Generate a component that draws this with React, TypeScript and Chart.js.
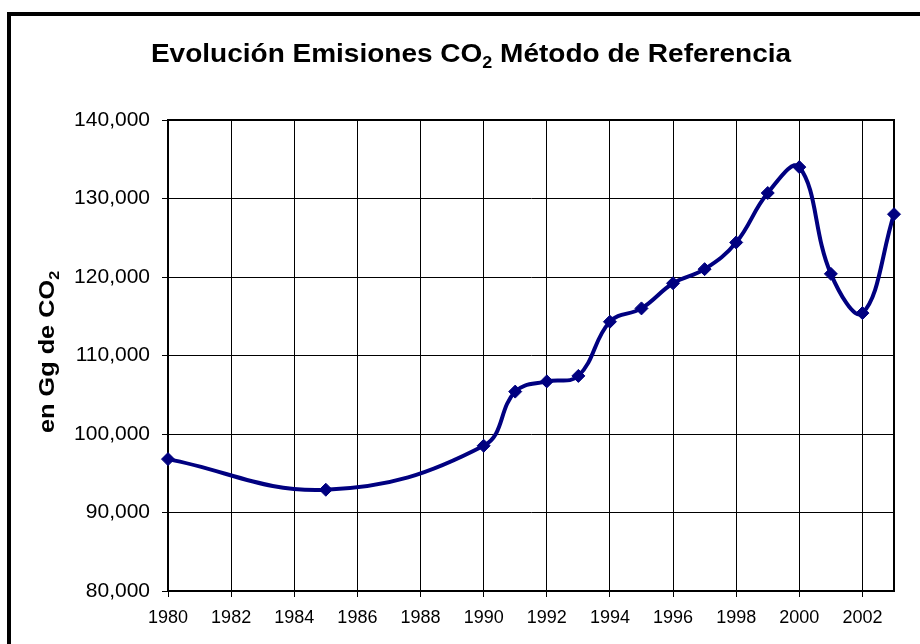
import React, { useEffect, useRef } from 'react';
import { Chart, registerables } from 'chart.js';

Chart.register(...registerables);

// ---- data ----
const years = [1980, 1985, 1990, 1991, 1992, 1993, 1994, 1995, 1996, 1997, 1998, 1999, 2000, 2001, 2002, 2003];
const emissions = [96800, 92900, 98500, 105400, 106700, 107400, 114300, 116000, 119200, 121000, 124400, 130700, 134000, 120400, 115400, 128000];
const xTicks = [1980, 1982, 1984, 1986, 1988, 1990, 1992, 1994, 1996, 1998, 2000, 2002];
const yTicks = [80000, 90000, 100000, 110000, 120000, 130000, 140000];
const titleParts = [
  { t: 'Evolución Emisiones CO', sub: false },
  { t: '2', sub: true },
  { t: ' Método de Referencia', sub: false },
];
const yLabelParts = [
  { t: 'en Gg de CO', sub: false },
  { t: '2', sub: true },
];

const NAVY = '#000080';
const FAMILY = '"Liberation Sans", Arial, Helvetica, sans-serif';

type Part = { t: string; sub: boolean };

function drawRich(ctx: CanvasRenderingContext2D, parts: Part[], size: number, sx: number) {
  const subSize = Math.round(size * 0.65);
  const widths = parts.map((p) => {
    ctx.font = `bold ${p.sub ? subSize : size}px ${FAMILY}`;
    return ctx.measureText(p.t).width;
  });
  const total = widths.reduce((a, b) => a + b, 0);
  ctx.scale(sx, 1);
  let x = -total / 2;
  ctx.textBaseline = 'alphabetic';
  ctx.textAlign = 'left';
  ctx.fillStyle = '#000';
  parts.forEach((p, i) => {
    ctx.font = `bold ${p.sub ? subSize : size}px ${FAMILY}`;
    ctx.fillText(p.t, x, p.sub ? size * 0.22 : 0);
    x += widths[i];
  });
}

const decor = {
  id: 'decor',
  beforeDraw(chart: any) {
    const ctx = chart.ctx as CanvasRenderingContext2D;
    ctx.save();
    ctx.fillStyle = '#fff';
    ctx.fillRect(0, 0, chart.width, chart.height);
    ctx.restore();
  },
  beforeDatasetsDraw(chart: any) {
    const ctx = chart.ctx as CanvasRenderingContext2D;
    const a = chart.chartArea;
    ctx.save();
    ctx.strokeStyle = '#000';
    ctx.lineWidth = 2;
    ctx.strokeRect(a.left, a.top, a.right - a.left, a.bottom - a.top);
    ctx.restore();
  },
  afterDraw(chart: any) {
    const ctx = chart.ctx as CanvasRenderingContext2D;
    // outer frame
    ctx.save();
    ctx.fillStyle = '#000';
    ctx.fillRect(7, 12, chart.width, 4);
    ctx.fillRect(7, 12, 4, chart.height);
    ctx.restore();
    // title
    ctx.save();
    ctx.translate(471, 62);
    drawRich(ctx, titleParts, 25, 1.12);
    ctx.restore();
    // y axis label
    ctx.save();
    ctx.translate(54, 352);
    ctx.rotate(-Math.PI / 2);
    drawRich(ctx, yLabelParts, 22, 1.15);
    ctx.restore();
  },
};

export default function App() {
  const ref = useRef<HTMLCanvasElement>(null);
  useEffect(() => {
    const canvas = ref.current;
    if (!canvas) return;
    const chart = new Chart(canvas, {
      type: 'line',
      data: {
        datasets: [
          {
            data: years.map((y, i) => ({ x: y, y: emissions[i] })),
            borderColor: NAVY,
            backgroundColor: NAVY,
            borderWidth: 4,
            tension: 0.4,
            pointStyle: 'rectRot',
            pointRadius: 6.5,
            pointHoverRadius: 6.5,
            pointBackgroundColor: NAVY,
            pointBorderColor: NAVY,
            pointBorderWidth: 1,
            fill: false,
            clip: false,
          } as any,
        ],
      },
      options: {
        responsive: false,
        animation: false,
        devicePixelRatio: 1,
        layout: { padding: { top: 120, right: 26, left: 0, bottom: 0 } },
        plugins: {
          legend: { display: false },
          title: { display: false },
          tooltip: { enabled: false },
        },
        scales: {
          x: {
            type: 'linear',
            min: 1980,
            max: 2003,
            afterBuildTicks: (scale: any) => {
              scale.ticks = xTicks.map((v) => ({ value: v }));
            },
            afterFit: (scale: any) => {
              scale.height = 53;
            },
            grid: { color: '#000', lineWidth: 1, drawTicks: true, tickLength: 6, tickColor: '#000' },
            border: { display: true, color: '#000', width: 2 },
            ticks: {
              color: '#000',
              padding: 10,
              font: { family: FAMILY, size: 18 },
              maxRotation: 0,
              autoSkip: false,
              callback: (v: any) => String(v),
            },
          },
          y: {
            type: 'linear',
            min: 80000,
            max: 140000,
            afterBuildTicks: (scale: any) => {
              scale.ticks = yTicks.map((v) => ({ value: v }));
            },
            afterFit: (scale: any) => {
              scale.width = 168;
            },
            grid: { color: '#000', lineWidth: 1, drawTicks: true, tickLength: 6, tickColor: '#000' },
            border: { display: true, color: '#000', width: 2 },
            ticks: {
              color: '#000',
              padding: 12,
              font: { family: FAMILY, size: 21 },
              autoSkip: false,
              callback: (v: any) => Number(v).toLocaleString('en-US'),
            },
          },
        },
      } as any,
      plugins: [decor],
    });
    return () => chart.destroy();
  }, []);
  return (
    <div style={{ position: 'fixed', left: 0, top: 0, width: 920, height: 644, background: '#fff' }}>
      <canvas ref={ref} width={920} height={644} style={{ display: 'block' }} />
    </div>
  );
}
